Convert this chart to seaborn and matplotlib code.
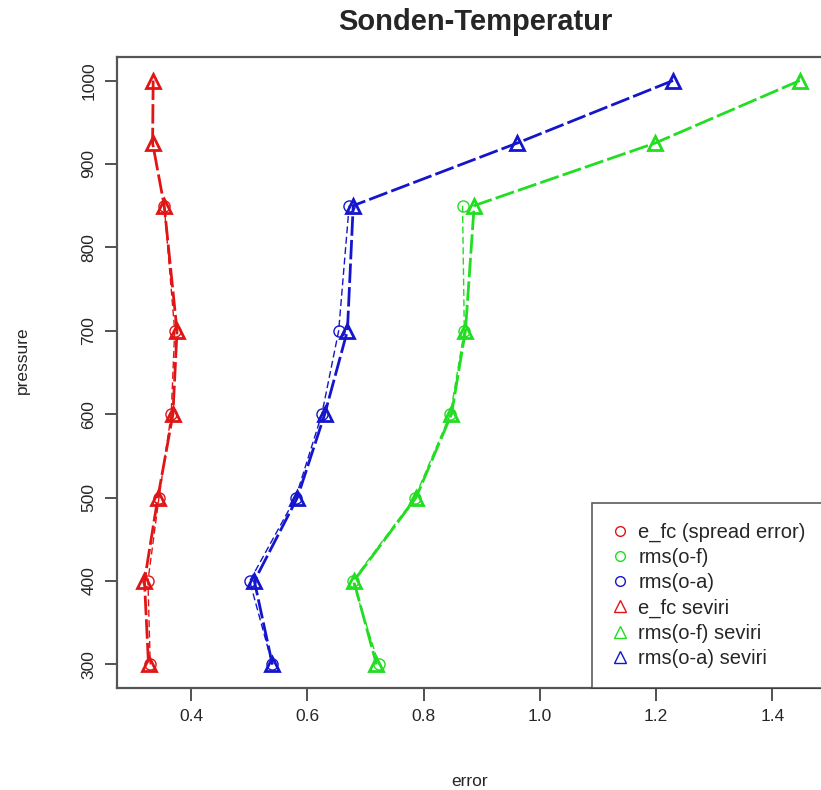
import numpy as np
import pandas as pd
import matplotlib
matplotlib.use("Agg")
import matplotlib.pyplot as plt
import seaborn as sns
from matplotlib.lines import Line2D

# ---- data ----
levels_seviri = [1000, 925, 850, 700, 600, 500, 400, 300]
levels_conv = [850, 700, 600, 500, 400, 300]

efc_seviri = [0.335, 0.334, 0.354, 0.376, 0.369, 0.343, 0.320, 0.327]
omf_seviri = [1.447, 1.198, 0.887, 0.872, 0.848, 0.787, 0.680, 0.719]
oma_seviri = [1.229, 0.961, 0.679, 0.669, 0.630, 0.583, 0.509, 0.540]

efc_conv = [0.354, 0.372, 0.366, 0.345, 0.326, 0.330]
omf_conv = [0.867, 0.870, 0.846, 0.785, 0.678, 0.723]
oma_conv = [0.672, 0.654, 0.625, 0.580, 0.501, 0.540]

labels = ["e_fc (spread error)", "rms(o-f)", "rms(o-a)",
          "e_fc seviri", "rms(o-f) seviri", "rms(o-a) seviri"]
x_ticks = [0.4, 0.6, 0.8, 1.0, 1.2, 1.4]
y_ticks = [300, 400, 500, 600, 700, 800, 900, 1000]

RED, GREEN, BLUE = "#e01515", "#22dd22", "#1515cc"

sns.set_style("white")
plt.rcParams["font.family"] = ["Liberation Sans", "DejaVu Sans"]

fig = plt.figure(figsize=(8.21, 7.90), dpi=100)
ax = fig.add_axes([117 / 821, 1 - 688 / 790, (826 - 117) / 821, (688 - 57) / 790])

conv = [(efc_conv, RED), (omf_conv, GREEN), (oma_conv, BLUE)]
sev = [(efc_seviri, RED), (omf_seviri, GREEN), (oma_seviri, BLUE)]

for (vals, col), lab in zip(conv, labels[:3]):
    df = pd.DataFrame({"error": vals, "pressure": levels_conv})
    sns.lineplot(data=df, x="error", y="pressure", sort=False, orient="y",
                 estimator=None, color=col, lw=1.0, ax=ax,
                 marker="o", markersize=8, markerfacecolor="none",
                 markeredgecolor=col, markeredgewidth=1.0,
                 linestyle=(0, (5, 2.5)), label=lab)

for (vals, col), lab in zip(sev, labels[3:]):
    df = pd.DataFrame({"error": vals, "pressure": levels_seviri})
    sns.lineplot(data=df, x="error", y="pressure", sort=False, orient="y",
                 estimator=None, color=col, lw=2.0, ax=ax,
                 marker="^", markersize=10, markerfacecolor="none",
                 markeredgecolor=col, markeredgewidth=2.0,
                 linestyle=(0, (7, 1.5)), label=lab)

ax.set_xlim(0.2728, 1.492)
ax.set_ylim(271.8, 1028.2)
ax.set_xticks(x_ticks)
ax.set_xticklabels([f"{t:.1f}" for t in x_ticks])
ax.set_yticks(y_ticks)
ax.set_yticklabels([str(t) for t in y_ticks], rotation=90, va="center")
ax.tick_params(axis="both", direction="out", length=9, width=1.2,
               color="#333333", labelsize=12.5, pad=6, left=True, bottom=True)
for s in ax.spines.values():
    s.set_color("#555555")
    s.set_linewidth(1.6)

ax.set_xlabel("")
ax.set_ylabel("")
fig.text(470 / 821, 1 - 781 / 790, "error", ha="center", va="center", fontsize=12.5)
fig.text(22 / 821, 1 - 360 / 790, "pressure", ha="center", va="center",
         rotation=90, fontsize=12.5)
fig.text(475 / 821, 1 - 22 / 790, "Sonden-Temperatur", ha="center", va="center",
         fontsize=21, fontweight="bold")

leg_handles = []
for col, mk, ms in [(RED, "o", 7), (GREEN, "o", 7), (BLUE, "o", 7),
                    (RED, "^", 8), (GREEN, "^", 8), (BLUE, "^", 8)]:
    leg_handles.append(Line2D([], [], linestyle="none", marker=mk, markersize=ms,
                              markerfacecolor="none", markeredgecolor=col,
                              markeredgewidth=1.0))
leg = ax.legend(leg_handles, labels, loc="lower right", bbox_to_anchor=(1.0, 0.0),
                fontsize=14.5, frameon=True, fancybox=False, borderpad=1.0,
                labelspacing=0.3, handlelength=0.8, handletextpad=0.5,
                borderaxespad=0.0)
leg.get_frame().set_edgecolor("#333333")
leg.get_frame().set_linewidth(1.2)

fig.savefig("out.png", dpi=100)
